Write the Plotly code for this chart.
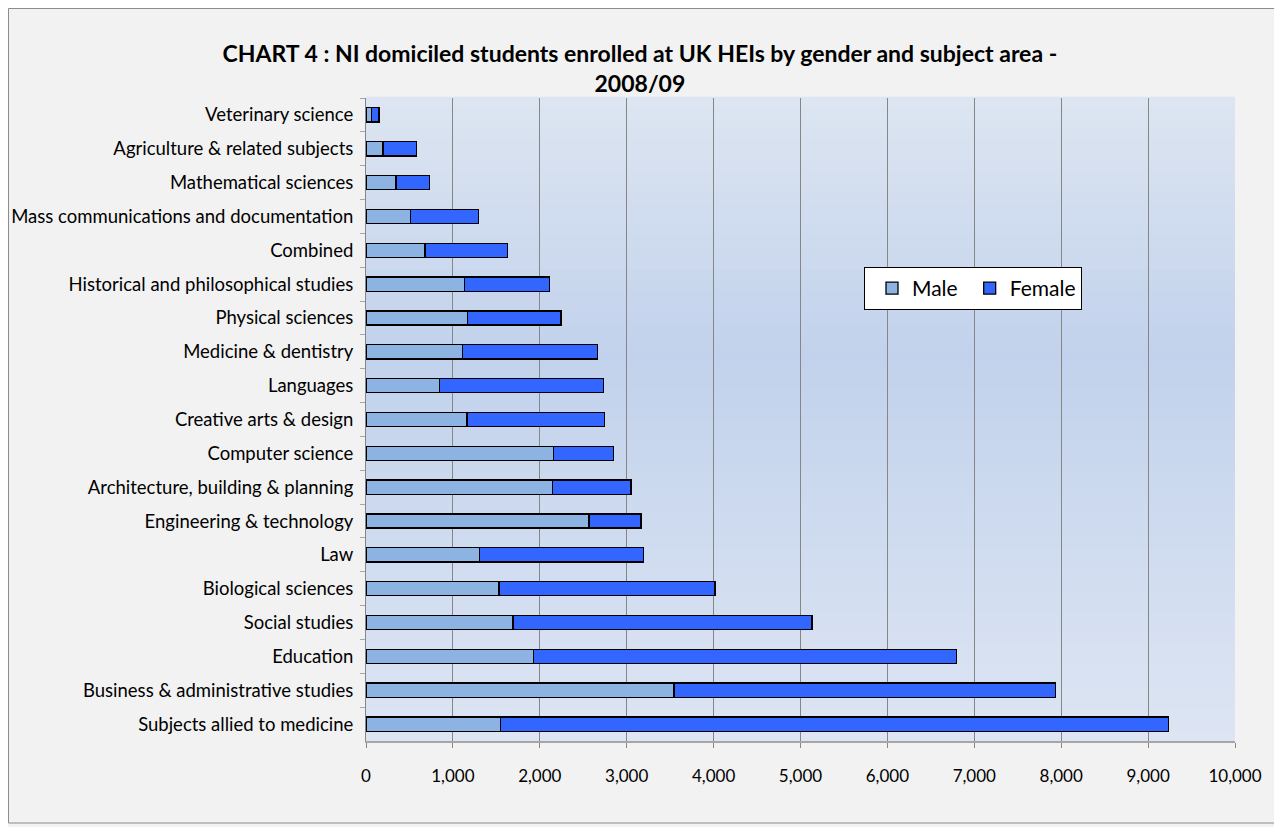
import plotly.graph_objects as go

# categories listed top to bottom as in the chart
subjects = [
    "Veterinary science",
    "Agriculture & related subjects",
    "Mathematical sciences",
    "Mass communications and documentation",
    "Combined",
    "Historical and philosophical studies",
    "Physical sciences",
    "Medicine & dentistry",
    "Languages",
    "Creative arts & design",
    "Computer science",
    "Architecture, building & planning",
    "Engineering & technology",
    "Law",
    "Biological sciences",
    "Social studies",
    "Education",
    "Business & administrative studies",
    "Subjects allied to medicine",
]
male = [61, 195, 345, 513, 678, 1130, 1164, 1111, 843, 1161, 2161, 2145, 2567, 1310, 1532, 1693, 1927, 3545, 1544]
total = [149, 582, 731, 1294, 1628, 2115, 2245, 2667, 2731, 2747, 2851, 3049, 3164, 3195, 4017, 5131, 6799, 7931, 9231]
female = [t - m for t, m in zip(total, male)]

x_ticks = list(range(0, 10001, 1000))

FONT = "Lato"
MALE_COLOR = "#8db3e2"
FEMALE_COLOR = "#3366ff"

fig = go.Figure()
fig.add_trace(go.Bar(y=subjects, x=male, name="Male", orientation="h",
                     marker=dict(color=MALE_COLOR, line=dict(color="black", width=1.3))))
fig.add_trace(go.Bar(y=subjects, x=female, name="Female", orientation="h",
                     marker=dict(color=FEMALE_COLOR, line=dict(color="black", width=1.3))))

# gradient plot background, built from thin bands
def blend(a, b, t):
    return tuple(round(a[i] + (b[i] - a[i]) * t) for i in range(3))

top_c, mid_c, bot_c = (221, 229, 241), (194, 210, 236), (221, 229, 243)
mid_pos = 0.6
n_bands = 60
shapes = []
for i in range(n_bands):
    y0 = i / n_bands
    y1 = (i + 1) / n_bands
    yc = (y0 + y1) / 2
    if yc < mid_pos:
        col = blend(bot_c, mid_c, yc / mid_pos)
    else:
        col = blend(mid_c, top_c, (yc - mid_pos) / (1 - mid_pos))
    shapes.append(dict(type="rect", xref="x domain", yref="y domain", x0=0, x1=1,
                       y0=y0, y1=y1 + 0.002, line=dict(width=0),
                       fillcolor="rgb(%d,%d,%d)" % col, layer="below"))

# page sits 8px in from the window edge, so size the figure to fit
FW, FH = 1274, 819
L, R, T, B = 358, 47, 90, 86
W, H = FW - L - R, FH - T - B

# outer chart border
shapes.append(dict(type="rect", xref="paper", yref="paper",
                   x0=(0.5 - L) / W, x1=(1270 - L) / W,
                   y0=(T + H - 815) / H, y1=(T + H - 0.5) / H,
                   line=dict(color="#8c8c8c", width=1), fillcolor="rgba(0,0,0,0)",
                   layer="below"))

fig.update_layout(
    barmode="stack",
    bargap=0.58,
    width=FW,
    height=FH,
    margin=dict(l=L, r=R, t=T, b=B, autoexpand=False),
    paper_bgcolor="#f2f2f2",
    plot_bgcolor="rgba(0,0,0,0)",
    shapes=shapes,
    font=dict(family=FONT, size=18.5, color="black"),
    title=dict(
        text="<b>CHART 4 : NI domiciled students enrolled at UK HEIs by gender and subject area -<br>2008/09</b>",
        x=0.496, xanchor="center", y=0.934, yanchor="top",
        font=dict(family=FONT, size=23, color="black"),
    ),
    legend=dict(
        orientation="h",
        x=(856 - L) / W, xanchor="left",
        y=(T + H - 259) / H, yanchor="top",
        bgcolor="white", bordercolor="black", borderwidth=1,
        font=dict(family=FONT, size=21),
        traceorder="normal",
        indentation=7,
    ),
    showlegend=True,
)
fig.update_xaxes(
    range=[0, 10000],
    tickvals=x_ticks,
    tickformat=",d",
    showgrid=True, gridcolor="#868686", gridwidth=1,
    showline=True, linecolor="#a6a6a6", linewidth=2,
    ticks="outside", ticklen=5, tickcolor="#868686",
    zeroline=False,
    ticklabelstandoff=14,
    tickfont=dict(family=FONT, size=17),
)
fig.update_yaxes(
    autorange="reversed",
    showgrid=False,
    showline=True, linecolor="#868686", linewidth=1,
    ticks="outside", ticklen=5, tickcolor="#a6a6a6", tickson="boundaries",
    ticklabelstandoff=8,
    tickfont=dict(family=FONT, size=18.5),
)

fig.write_html("out.html")
